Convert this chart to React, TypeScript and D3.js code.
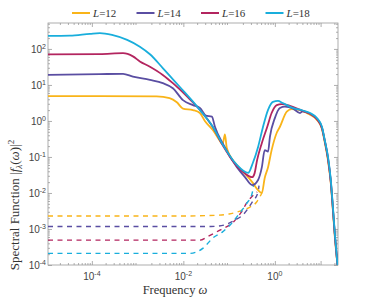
import React, { useRef, useEffect } from 'react';
import * as d3 from 'd3';

// system sizes in the legend
const sizes = ['12', '14', '16', '18'];
const colors = ['#F9B419', '#5A4EA2', '#B3255F', '#19AEDC'];

// solid curves: frequency and spectral function
const freq12 = [1.1e-5, 1.5e-4, 2.6e-3, 5.0e-3, 7.2e-3, 9.8e-3, 1.62e-2, 2.3e-2, 2.95e-2, 4.4e-2, 6.3e-2, 7.2e-2, 8.1e-2, 8.9e-2, 0.148, 0.22, 0.32, 0.43, 0.52, 0.60, 0.71, 0.85, 1.10, 1.29, 1.82, 2.34, 3.55, 5.9, 8.3, 10.7, 12.3, 14.5, 16.6, 18.6, 20.4, 23.4];
const spec12 = [4.9, 4.9, 4.8, 4.3, 3.3, 2.2, 2.0, 1.66, 1.0, 0.56, 0.28, 0.224, 0.42, 0.178, 0.06, 0.035, 0.02, 0.012, 0.01, 0.026, 0.052, 0.155, 0.47, 0.69, 1.82, 2.14, 2.0, 1.48, 1.07, 0.6, 0.26, 0.08, 0.02, 0.0032, 6.3e-4, 1e-4];

const freq14 = [1.1e-5, 1.5e-4, 4.8e-4, 7.9e-4, 1.86e-3, 3.55e-3, 5.9e-3, 9.8e-3, 1.62e-2, 2.3e-2, 3.1e-2, 4.2e-2, 4.9e-2, 7.2e-2, 0.148, 0.22, 0.32, 0.43, 0.52, 0.60, 0.71, 0.78, 1.0, 1.29, 1.66, 2.45, 3.55, 4.07, 5.9, 8.3, 10.7, 12.3, 14.5, 16.6, 18.6, 20.4, 23.4];
const spec14 = [19, 20, 20.4, 17, 13.8, 11.2, 8.1, 3.8, 2.75, 2.3, 1.41, 1.32, 0.69, 0.24, 0.052, 0.028, 0.0166, 0.023, 0.052, 0.155, 0.141, 0.36, 1.2, 2.3, 2.5, 2.24, 1.66, 1.86, 1.58, 1.15, 0.66, 0.29, 0.095, 0.023, 0.0037, 7.5e-4, 1e-4];

const freq16 = [1.1e-5, 1.5e-4, 4.8e-4, 7.9e-4, 1.12e-3, 1.86e-3, 3.55e-3, 5.9e-3, 1.2e-2, 2.3e-2, 4.4e-2, 7.2e-2, 0.148, 0.22, 0.32, 0.36, 0.41, 0.52, 0.68, 0.85, 1.10, 1.41, 2.14, 4.07, 5.9, 8.3, 10.7, 12.3, 14.5, 16.6, 18.6, 20.4, 23.4];
const spec16 = [71, 72, 76, 62, 45, 32, 19, 11.2, 4.8, 2.04, 0.68, 0.214, 0.056, 0.035, 0.0275, 0.035, 0.083, 0.245, 0.68, 1.66, 2.75, 2.95, 2.63, 1.9, 1.58, 1.12, 0.63, 0.28, 0.089, 0.022, 0.0035, 7.1e-4, 1e-4];

const freq18 = [1.1e-5, 3.3e-5, 9.1e-5, 1.5e-4, 2.75e-4, 5.9e-4, 1.12e-3, 1.86e-3, 3.55e-3, 8.3e-3, 2.0e-2, 4.4e-2, 7.2e-2, 0.148, 0.26, 0.33, 0.43, 0.55, 0.71, 0.91, 1.17, 1.48, 2.45, 4.07, 5.9, 8.3, 10.7, 12.3, 14.5, 16.6, 18.6, 20.4, 23.4];
const spec18 = [229, 234, 263, 275, 245, 178, 115, 71, 29.5, 8.9, 2.5, 0.69, 0.224, 0.06, 0.036, 0.068, 0.19, 0.68, 2.04, 3.4, 3.6, 3.16, 2.3, 1.95, 1.66, 1.2, 0.69, 0.295, 0.1, 0.025, 0.004, 7.9e-4, 1e-4];

// dashed curves
const dFreq12 = [1.1e-5, 1e-2, 5e-2, 0.1, 0.18, 0.28, 0.40, 0.52];
const dSpec12 = [2.3e-3, 2.3e-3, 2.4e-3, 2.6e-3, 3.2e-3, 4.0e-3, 5.6e-3, 1.0e-2];
const dFreq14 = [1.1e-5, 4e-2, 8e-2, 0.135, 0.2, 0.32, 0.43, 0.45];
const dSpec14 = [1.17e-3, 1.17e-3, 1.3e-3, 1.78e-3, 2.45e-3, 5.6e-3, 1.07e-2, 1.6e-2];
const dFreq16 = [1.1e-5, 2.3e-2, 3.5e-2, 6.3e-2, 0.126, 0.18, 0.25, 0.41];
const dSpec16 = [4.9e-4, 4.9e-4, 6.3e-4, 9.3e-4, 1.6e-3, 2.8e-3, 5.6e-3, 1.07e-2];
const dFreq18 = [1.1e-5, 1.4e-2, 2.7e-2, 4.4e-2, 7.2e-2, 0.12, 0.17, 0.245, 0.32, 0.34];
const dSpec18 = [2.1e-4, 2.1e-4, 2.95e-4, 5.6e-4, 8.3e-4, 1.55e-3, 2.75e-3, 5.2e-3, 0.01, 1.6e-2];

const xTicks = [-4, -2, 0];
const yTicks = [-4, -3, -2, -1, 0, 1, 2];

const solid = [[freq12, spec12], [freq14, spec14], [freq16, spec16], [freq18, spec18]];
const dashed = [[dFreq12, dSpec12], [dFreq14, dSpec14], [dFreq16, dSpec16], [dFreq18, dSpec18]];

const App = () => {
  const ref = useRef(null);

  useEffect(() => {
    const width = 374, height = 298;
    const svg = d3.select(ref.current)
      .attr('width', width)
      .attr('height', height)
      .style('background-color', 'white');
    svg.selectAll('*').remove();

    const left = 48, right = 338, top = 23, bottom = 265;
    const x = d3.scaleLog().domain([1.1e-5, 24]).range([left, right]);
    const y = d3.scaleLog().domain([1e-4, Math.pow(10, 2.72)]).range([bottom, top]);

    const minorX = [];
    for (let d = -5; d <= 1; d++) for (let k = 2; k <= 9; k++) {
      const v = k * Math.pow(10, d);
      if (v > 1.1e-5 && v < 24) minorX.push(v);
    }
    const minorY = [];
    for (let d = -4; d <= 2; d++) for (let k = 2; k <= 9; k++) {
      const v = k * Math.pow(10, d);
      if (v < Math.pow(10, 2.72)) minorY.push(v);
    }
    const majX = xTicks.map(e => Math.pow(10, e)).concat([1e1]);
    const majY = yTicks.map(e => Math.pow(10, e));

    const axisColor = '#9a9a9a';
    const drawAxis = (axis, tx, ty) => {
      const g = svg.append('g').attr('transform', `translate(${tx},${ty})`).call(axis);
      g.select('.domain').remove();
      g.selectAll('line').attr('stroke', axisColor).attr('stroke-width', 0.8);
    };
    [[majX, 4], [minorX, 2]].forEach(([vals, len]) => {
      drawAxis(d3.axisBottom(x).tickValues(vals).tickSize(-len).tickFormat(() => ''), 0, bottom);
      drawAxis(d3.axisTop(x).tickValues(vals).tickSize(-len).tickFormat(() => ''), 0, top);
    });
    [[majY, 4], [minorY, 2]].forEach(([vals, len]) => {
      drawAxis(d3.axisLeft(y).tickValues(vals).tickSize(-len).tickFormat(() => ''), left, 0);
      drawAxis(d3.axisRight(y).tickValues(vals).tickSize(-len).tickFormat(() => ''), right, 0);
    });

    svg.append('rect')
      .attr('x', left).attr('y', top)
      .attr('width', right - left).attr('height', bottom - top)
      .attr('fill', 'none').attr('stroke', axisColor).attr('stroke-width', 0.8);

    // tick labels
    const tickFont = 'Liberation Sans, Arial, sans-serif';
    xTicks.forEach(e => {
      const t = svg.append('text')
        .attr('x', x(Math.pow(10, e)))
        .attr('y', 280)
        .attr('text-anchor', 'middle')
        .style('font-family', tickFont).style('font-size', '10px').style('fill', '#444');
      t.append('tspan').text('10');
      t.append('tspan').attr('dy', -4).style('font-size', '7px').text(String(e));
    });
    yTicks.forEach(e => {
      const t = svg.append('text')
        .attr('x', 46)
        .attr('y', y(Math.pow(10, e)) + 4)
        .attr('text-anchor', 'end')
        .style('font-family', tickFont).style('font-size', '10px').style('fill', '#444');
      t.append('tspan').text('10');
      t.append('tspan').attr('dy', -4).style('font-size', '7px').text(String(e));
    });

    // axis labels
    const serif = 'Liberation Serif, Times New Roman, serif';
    const xl = svg.append('text')
      .attr('x', 175).attr('y', 294)
      .attr('text-anchor', 'middle')
      .style('font-family', serif).style('font-size', '12.5px').style('fill', '#333');
    xl.append('tspan').text('Frequency ');
    xl.append('tspan').style('font-style', 'italic').text('ω');

    const yl = svg.append('text')
      .attr('transform', 'translate(19, 205) rotate(-90)')
      .attr('text-anchor', 'middle')
      .style('font-family', serif).style('font-size', '13px').style('fill', '#333');
    yl.append('tspan').text('Spectral Function |');
    yl.append('tspan').style('font-style', 'italic').text('f');
    yl.append('tspan').attr('dy', 3).style('font-size', '9px').style('font-style', 'italic').text('λ');
    yl.append('tspan').attr('dy', -3).text('(');
    yl.append('tspan').style('font-style', 'italic').text('ω');
    yl.append('tspan').text(')|');
    yl.append('tspan').attr('dy', -5).style('font-size', '9px').text('2');

    // curves
    svg.append('clipPath').attr('id', 'plotclip')
      .append('rect').attr('x', left).attr('y', top)
      .attr('width', right - left).attr('height', bottom - top);
    const plot = svg.append('g').attr('clip-path', 'url(#plotclip)');

    const line = d3.line()
      .x(d => x(d[0]))
      .y(d => y(d[1]))
      .curve(d3.curveMonotoneX);

    dashed.forEach(([f, s], i) => {
      plot.append('path')
        .datum(f.map((v, j) => [v, s[j]]))
        .attr('d', line)
        .style('fill', 'none')
        .style('stroke', colors[i])
        .style('stroke-width', 1.4)
        .style('stroke-dasharray', '5,4.5');
    });
    solid.forEach(([f, s], i) => {
      plot.append('path')
        .datum(f.map((v, j) => [v, s[j]]))
        .attr('d', line)
        .style('fill', 'none')
        .style('stroke', colors[i])
        .style('stroke-width', 1.8)
        .style('stroke-linejoin', 'round');
    });

    // legend
    sizes.forEach((L, i) => {
      const x0 = 72 + i * 64.5;
      svg.append('line')
        .attr('x1', x0).attr('x2', x0 + 18)
        .attr('y1', 13).attr('y2', 13)
        .attr('stroke', colors[i]).attr('stroke-width', 2);
      const t = svg.append('text')
        .attr('x', x0 + 21).attr('y', 17)
        .style('font-family', serif).style('font-size', '11px').style('fill', '#333');
      t.append('tspan').style('font-style', 'italic').text('L');
      t.append('tspan').text('=' + L);
    });
  }, []);

  return (
    <svg ref={ref} style={{ position: 'absolute', left: 0, top: 0 }}></svg>
  );
};

export default App;
